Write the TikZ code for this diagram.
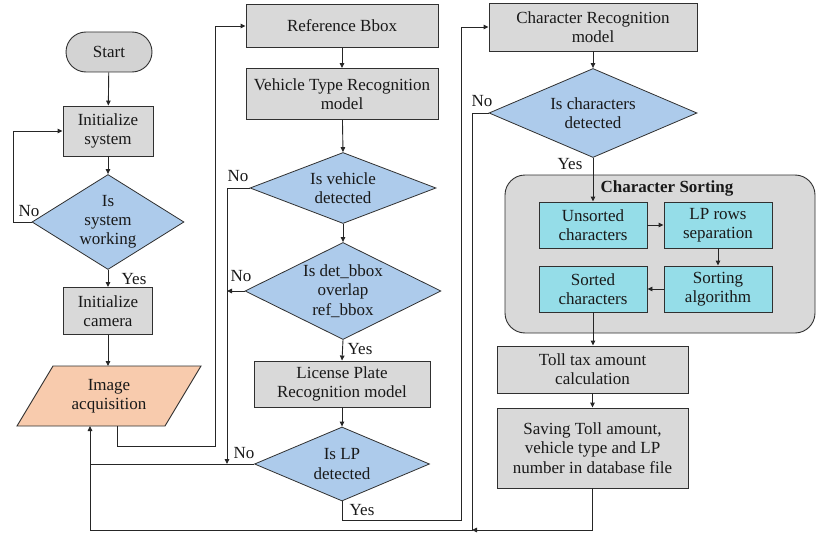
\documentclass[tikz,border=0pt]{standalone}
\usepackage{fontspec}
\setmainfont{Liberation Serif}
\usetikzlibrary{arrows.meta,shapes.geometric}
\definecolor{boxgray}{HTML}{D9D9D9}
\definecolor{startgray}{HTML}{D3D3D3}
\definecolor{diablue}{HTML}{ADCBEB}
\definecolor{paraorange}{HTML}{F8CBAD}
\definecolor{subcyan}{HTML}{95DDE8}
\definecolor{edgecol}{HTML}{303030}
\begin{document}
\begin{tikzpicture}[x=1pt,y=-1pt,
  every node/.style={font=\fontsize{17}{19.2}\selectfont, text=black!90},
  conn/.style={draw=black!85, line width=0.9pt},
  arr/.style={conn, -{Triangle[length=5pt,width=4.5pt]}},
  procbox/.style={draw=edgecol, line width=0.9pt, fill=boxgray, rectangle, align=center, inner sep=0pt},
  subbox/.style={draw=edgecol, line width=0.9pt, fill=subcyan, rectangle, align=center, inner sep=0pt, minimum width=108pt, minimum height=46pt},
  decision/.style={draw=edgecol, line width=0.8pt, fill=diablue, diamond, inner sep=0pt},
  dtext/.style={align=center, inner sep=0pt},
  lbl/.style={inner sep=0pt}
]
\useasboundingbox (0,0) rectangle (830,543);

% ---------- left column ----------
\node[procbox, rounded corners=20pt, fill=startgray, minimum width=86pt, minimum height=40pt] (start) at (109,52) {Start};
\node[procbox, minimum width=90pt, minimum height=50pt] (init) at (108,131) {Initialize\\system};
\node[decision, minimum width=152pt, minimum height=95pt, label={[dtext]center:Is\\system\\working}] (d1) at (108,222) {};
\node[procbox, minimum width=89pt, minimum height=47pt] (cam) at (108,311) {Initialize\\camera};
\draw[draw=edgecol, line width=0.9pt, fill=paraorange] (53,366) -- (201,366) -- (165,426) -- (17,426) -- cycle;
\node[dtext] (img) at (109,396) {Image\\acquisition};
\coordinate (imgtop) at (108,366);
\coordinate (imgout) at (117,426);
\coordinate (imgin) at (90,426);

% ---------- middle column ----------
\node[procbox, minimum width=192pt, minimum height=43pt] (ref) at (342,26) {Reference Bbox};
\node[procbox, minimum width=192pt, minimum height=51pt] (vtr) at (342,94) {Vehicle Type Recognition\\model};
\node[decision, minimum width=186pt, minimum height=71pt, label={[dtext]center:Is vehicle\\detected}] (d2) at (343,188) {};
\node[decision, minimum width=196pt, minimum height=97pt, label={[dtext]center:Is det\_bbox\\overlap\\ref\_bbox}] (d3) at (343,291) {};
\node[procbox, minimum width=176pt, minimum height=46pt] (lpr) at (342,384) {License Plate\\Recognition model};
\node[decision, minimum width=175pt, minimum height=74pt, label={[dtext]center:Is LP\\detected}] (d4) at (342,464) {};

% ---------- right column ----------
\node[procbox, minimum width=208pt, minimum height=48pt] (crm) at (593,27) {Character Recognition\\model};
\node[decision, minimum width=208pt, minimum height=89pt, label={[dtext]center:Is characters\\detected}] (d5) at (593,113) {};
\node[draw=edgecol, line width=0.9pt, fill=boxgray, rounded corners=20pt, minimum width=310pt, minimum height=158pt, inner sep=0pt] (sortbox) at (660,254) {};
\node[font=\fontsize{17}{19.2}\selectfont\bfseries] (sorttitle) at (667,188) {Character Sorting};
\node[subbox] (uns) at (593,225) {Unsorted\\characters};
\node[subbox] (lprow) at (718,225) {LP rows\\separation};
\node[subbox] (salg) at (718,289) {Sorting\\algorithm};
\node[subbox] (sortc) at (593,289) {Sorted\\characters};
\node[procbox, minimum width=191pt, minimum height=47pt] (toll) at (592.5,369.5) {Toll tax amount\\calculation};
\node[procbox, minimum width=191pt, minimum height=80pt] (save) at (592.5,448) {Saving Toll amount,\\vehicle type and LP\\number in database file};

% ---------- connectors: left ----------
\draw[arr] (start) -- (init);
\draw[arr] (init) -- (d1);
\draw[arr] (d1.west) -- (13,222) |- (init.west);
\node[lbl] (nol1) at (29,211) {No};
\draw[arr] (d1.south) -- (cam.north);
\node[lbl] (yes1) at (134,279) {Yes};
\draw[arr] (cam.south) -- (imgtop);
\draw[arr] (imgout) -- (117,446) -- (215,446) |- (ref.west);

% ---------- connectors: middle ----------
\draw[arr] (ref) -- (vtr);
\draw[arr] (vtr) -- (d2.north);
\draw[arr] (d2.south) -- (d3.north);
\draw[arr] (d3.south) -- (lpr.north);
\draw[arr] (lpr) -- (d4.north);
\draw[arr] (d2.west) -- (227,188) -- (227,464);
\node[lbl] (nol2) at (238,176) {No};
\draw[arr] (d3.west) -- (227,291);
\node[lbl] (nol3) at (241,276) {No};
\node[lbl] (yes3) at (360,349) {Yes};
\draw[conn] (d4.west) -- (90,464);
\node[lbl] (nol4) at (244,453) {No};
\draw[arr] (d4.south) -- (342,520) -- (461,520) |- (crm.west);
\node[lbl] (yes4) at (362,510) {Yes};

% ---------- connectors: right ----------
\draw[arr] (crm) -- (d5.north);
\draw[arr] (d5.west) -- (472,113) -- (472,530) -- (90,530) -- (imgin);
\node[lbl] (nol5) at (482,101) {No};
\draw[arr] (d5.south) -- (uns.north);
\node[lbl] (yes5) at (570,164) {Yes};
\draw[arr] (uns) -- (lprow);
\draw[arr] (lprow) -- (salg);
\draw[arr] (salg) -- (sortc);
\draw[arr] (sortc.south) -- (sortc.south |- toll.north);
\draw[arr] (toll) -- (save);
\draw[arr] (save.south) -- (save.south |- 0,530) -- (472,530);
\end{tikzpicture}
\end{document}
